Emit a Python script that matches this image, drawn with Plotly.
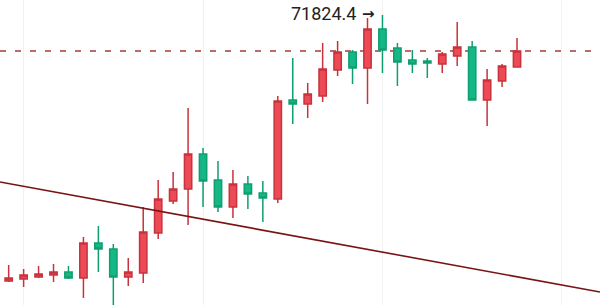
import plotly.graph_objects as go

# Candle index (0-based)
idx = list(range(35))

opens = [65175, 65225, 65275, 65325, 65400, 65250, 66125, 65975, 65275, 65375,
         66375, 67175, 67475, 68350, 67700, 67025, 67600, 67375, 67225, 69700,
         69600, 69800, 70450, 70900, 70500, 71475, 71000, 70700, 70675, 70600,
         70800, 71025, 69700, 70175, 70525]
highs = [65575, 65475, 65550, 65600, 65550, 66275, 66550, 66100, 65750, 67025,
         67700, 67900, 69500, 68500, 68175, 67950, 67800, 67675, 69800, 70750,
         70125, 71125, 71175, 70950, 71750, 71824.4, 71125, 70950, 70750, 70900,
         71650, 71175, 70475, 70600, 71250]
lows = [65150, 65025, 65250, 65150, 65225, 64750, 65400, 64450, 65050, 65125,
        66225, 67100, 66575, 67025, 66900, 66750, 66975, 66650, 67125, 69100,
        69250, 69650, 70300, 70100, 69600, 70375, 70050, 70375, 70250, 70375,
        70550, 69700, 69050, 70025, 70525]
closes = [65250, 65325, 65350, 65400, 65250, 66125, 65975, 65275, 65400, 66400,
          67225, 67475, 68350, 67675, 67025, 67600, 67350, 67250, 69675, 69600,
          69850, 70475, 70900, 70500, 71475, 70950, 70650, 70600, 70625, 70850,
          71025, 69700, 70200, 70550, 70925]

peak_label = "71824.4"
peak_arrow = "→"
peak_index = 25
peak_value = 71824.4

trend_x = [-0.58, 39.55]
trend_y = [67650, 64900]

grid_ticks = [1, 13, 25, 37]

RED = "#ec4a55"
GREEN = "#14b886"

fig = go.Figure()

fig.add_trace(go.Scatter(
    x=trend_x, y=trend_y, mode="lines",
    line=dict(color="#7a1414", width=1.6),
    hoverinfo="skip", showlegend=False,
))

fig.add_trace(go.Candlestick(
    x=idx, open=opens, high=highs, low=lows, close=closes,
    increasing=dict(fillcolor=RED, line=dict(color="#c8323c", width=1.5)),
    decreasing=dict(fillcolor=GREEN, line=dict(color="#0f9e70", width=1.5)),
    whiskerwidth=0, showlegend=False,
))

fig.add_shape(
    type="line", xref="paper", x0=0, x1=1, yref="y",
    y0=closes[-1], y1=closes[-1],
    line=dict(color="#a83a3a", width=1.3, dash="6px,9px"),
    layer="below",
)

fig.add_annotation(
    x=peak_index, y=peak_value, xref="x", yref="y",
    text=peak_label,
    showarrow=False, xanchor="right", yanchor="middle",
    xshift=-24, yshift=2,
    font=dict(family="Roboto, Arial, sans-serif", size=18, color="#222222"),
)
fig.add_annotation(
    x=peak_index, y=peak_value, xref="x", yref="y",
    text="<b>" + peak_arrow + "</b>",
    showarrow=False, xanchor="right", yanchor="middle",
    xshift=-5, yshift=1,
    font=dict(family="DejaVu Sans, sans-serif", size=15, color="#222222"),
)

fig.update_layout(
    width=600, height=305,
    margin=dict(l=0, r=0, t=0, b=0, pad=0),
    paper_bgcolor="white", plot_bgcolor="white",
    showlegend=False,
    xaxis=dict(
        range=[-0.58, 39.55], rangeslider=dict(visible=False),
        tickvals=grid_ticks, showticklabels=False, ticks="",
        showgrid=True, gridcolor="#f1f1f1", gridwidth=1,
        zeroline=False, showline=False,
    ),
    yaxis=dict(
        range=[64575, 72200], showgrid=False, showticklabels=False,
        ticks="", zeroline=False, showline=False,
    ),
)

fig.write_html("out.html")
